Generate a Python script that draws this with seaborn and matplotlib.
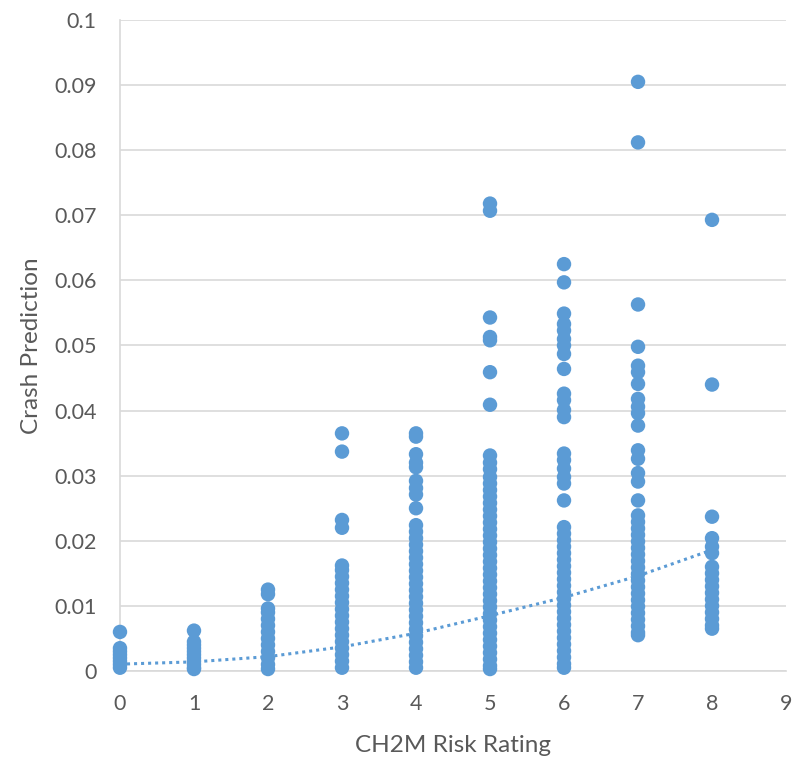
import numpy as np
import pandas as pd
import matplotlib
matplotlib.use("Agg")
import matplotlib.pyplot as plt
import seaborn as sns

# values, one list per risk rating
rating_0 = [0.006, 0.0035, 0.003, 0.0025, 0.002, 0.0015, 0.001, 0.0005]
rating_1 = [0.0062, 0.0045, 0.004, 0.0035, 0.003, 0.0025, 0.002, 0.0015, 0.001, 0.0005, 0.0003]
rating_2 = [0.0125, 0.0118, 0.0096, 0.009, 0.008, 0.007, 0.006, 0.005, 0.004, 0.003, 0.002, 0.001, 0.0003]
rating_3 = [0.0365, 0.0337, 0.0232, 0.022, 0.0162, 0.0155, 0.0145, 0.0135, 0.0125, 0.0115, 0.0105,
            0.0095, 0.0085, 0.0075, 0.0065, 0.0055, 0.0045, 0.0035, 0.0025, 0.0015, 0.0005]
rating_4 = [0.0365, 0.036, 0.0333, 0.032, 0.0313, 0.0292, 0.0281, 0.0271, 0.025, 0.0224, 0.0214,
            0.0204, 0.0194, 0.0184, 0.0174, 0.0164, 0.0154, 0.0144, 0.0134, 0.0124, 0.0114, 0.0104,
            0.0094, 0.0084, 0.0074, 0.0064, 0.0054, 0.0044, 0.0034, 0.0024, 0.0014, 0.0005]
rating_5 = [0.0718, 0.0707, 0.0543, 0.0513, 0.0508, 0.0459, 0.0409, 0.0331, 0.032, 0.031, 0.0298,
            0.0288, 0.0278, 0.0268, 0.0258, 0.0248, 0.0238, 0.0228, 0.0218, 0.0208, 0.0198, 0.0188,
            0.0178, 0.0168, 0.0158, 0.0148, 0.0138, 0.0128, 0.0118, 0.0108, 0.0098, 0.0088, 0.0078,
            0.0068, 0.0058, 0.0048, 0.0038, 0.0028, 0.0018, 0.0008, 0.0003]
rating_6 = [0.0625, 0.0597, 0.0549, 0.0533, 0.0523, 0.051, 0.05, 0.0487, 0.0464, 0.0426, 0.0416,
            0.0401, 0.039, 0.0334, 0.0324, 0.0311, 0.0298, 0.0288, 0.0262, 0.0221, 0.0211, 0.0201,
            0.0191, 0.0181, 0.0171, 0.0161, 0.0151, 0.0141, 0.0131, 0.0121, 0.0111, 0.0101, 0.0091,
            0.0081, 0.0071, 0.0061, 0.0051, 0.0041, 0.0031, 0.0021, 0.0011, 0.0005]
rating_7 = [0.0905, 0.0812, 0.0563, 0.0498, 0.0469, 0.0459, 0.0441, 0.0418, 0.0406, 0.0396, 0.0377,
            0.0339, 0.0326, 0.0304, 0.0291, 0.0262, 0.0239, 0.0229, 0.0219, 0.0209, 0.0199, 0.0189,
            0.0179, 0.0169, 0.0159, 0.0149, 0.0139, 0.0129, 0.0119, 0.0109, 0.0099, 0.0089, 0.0079,
            0.0069, 0.0059, 0.0055]
rating_8 = [0.0693, 0.044, 0.0237, 0.0204, 0.0191, 0.0181, 0.016, 0.015, 0.014, 0.013, 0.012,
            0.011, 0.01, 0.009, 0.008, 0.007, 0.0065]
columns = [rating_0, rating_1, rating_2, rating_3, rating_4, rating_5, rating_6, rating_7, rating_8]

# dotted trendline, read at each rating
trend_x = [0, 1, 2, 3, 4, 5, 6, 7, 8]
trend_y = [0.00105, 0.0014, 0.0022, 0.0037, 0.0058, 0.0085, 0.0113, 0.0146, 0.0186]

x_ticks = [0, 1, 2, 3, 4, 5, 6, 7, 8, 9]
y_ticks = [0, 0.01, 0.02, 0.03, 0.04, 0.05, 0.06, 0.07, 0.08, 0.09, 0.1]
y_labels = ["0", "0.01", "0.02", "0.03", "0.04", "0.05", "0.06", "0.07", "0.08", "0.09", "0.1"]

df = pd.DataFrame({
    "rating": [r for r, col in enumerate(columns) for _ in col],
    "crash": [v for col in columns for v in col],
})

sns.set_style("white")
plt.rcParams["font.family"] = ["Lato", "DejaVu Sans"]

BLUE = "#5b9bd5"
GREY = "#595959"
GRID = "#d9d9d9"

fig = plt.figure(figsize=(8.08, 7.58), dpi=100)
ax = fig.add_axes([0.1485, 0.1148, 0.8243, 0.8588])

# trendline sits behind the markers
ax.plot(trend_x, trend_y, color=BLUE, lw=2.2, linestyle=(0, (1, 1.3)), zorder=2)
sns.scatterplot(data=df, x="rating", y="crash", ax=ax, color=BLUE, s=108,
                edgecolor="none", linewidth=0, legend=False, zorder=3, clip_on=False)

ax.set_xlim(0, 9)
ax.set_ylim(0, 0.1)
ax.set_xticks(x_ticks)
ax.set_xticklabels([str(t) for t in x_ticks])
ax.set_yticks(y_ticks)
ax.set_yticklabels(y_labels)
ax.tick_params(axis="both", length=0, labelsize=15.5, labelcolor=GREY)
ax.tick_params(axis="y", pad=17)
ax.tick_params(axis="x", pad=16.5)

ax.yaxis.grid(True, color=GRID, lw=1.2)
ax.xaxis.grid(False)
ax.set_axisbelow(True)
for side in ["top", "right"]:
    ax.spines[side].set_visible(False)
for side in ["left", "bottom"]:
    ax.spines[side].set_color(GRID)
    ax.spines[side].set_linewidth(1.2)

ax.set_xlabel("CH2M Risk Rating", fontsize=17.5, color=GREY)
ax.set_ylabel("Crash Prediction", fontsize=17.5, color=GREY)
ax.xaxis.set_label_coords(0.5, -0.098)
ax.yaxis.set_label_coords(-0.117, 0.5)

fig.savefig("out.png", dpi=100)
